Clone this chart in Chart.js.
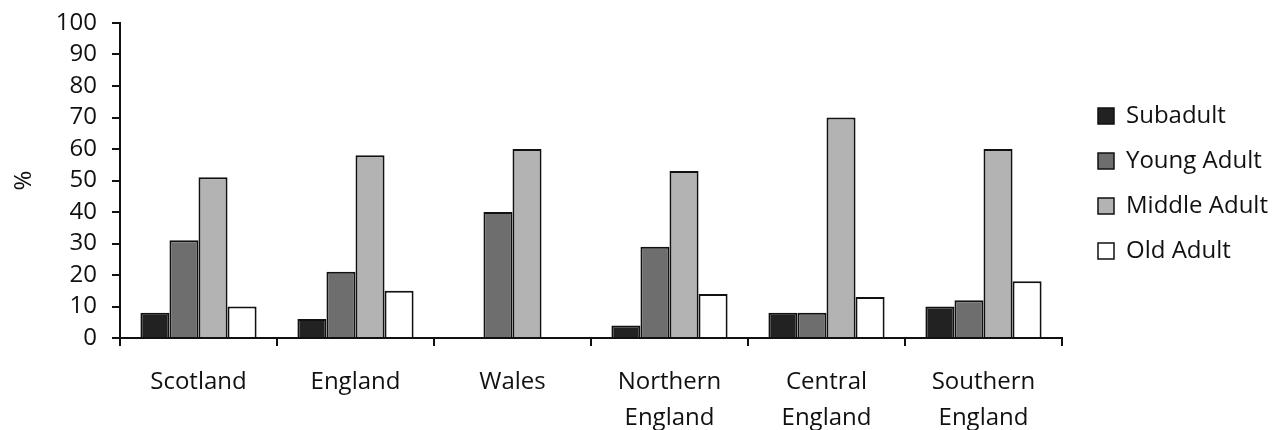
<!DOCTYPE html>
<html>
<head>
<meta charset="utf-8">
<script src="https://cdn.jsdelivr.net/npm/chart.js@4.4.1/dist/chart.umd.min.js"></script>
<style>
  html, body { margin: 0; padding: 0; background: #ffffff; }
  #wrap { width: 1280px; height: 430px; }
</style>
</head>
<body>
<div id="wrap"><canvas id="c" width="1280" height="430"></canvas></div>
<script>
// Age-at-death distribution by region (%)
const regions = ['Scotland', 'England', 'Wales', ['Northern', 'England'], ['Central', 'England'], ['Southern', 'England']];
const subadult    = [8, 6, 0, 4, 8, 10];
const youngAdult  = [31, 21, 40, 29, 8, 12];
const middleAdult = [51, 58, 60, 53, 70, 60];
const oldAdult    = [10, 15, 0, 14, 13, 18];
const yTicks = [0, 10, 20, 30, 40, 50, 60, 70, 80, 90, 100];

const FONT = "'Open Sans', 'DejaVu Sans', sans-serif";
const INK = '#111111';

// Legend sits a little further from the plot than Chart.js places it by default
const legendOffset = {
  id: 'legendOffset',
  afterInit(chart) {
    const lg = chart.legend;
    if (!lg) return;
    const fit = lg.fit;
    lg.fit = function () { fit.call(this); this.width = 218; };
    const draw = lg.draw;
    lg.draw = function () {
      this.left += 15; this.top += 6;
      draw.call(this);
      this.left -= 15; this.top -= 6;
    };
  }
};

function series(label, data, color) {
  return {
    label, data,
    backgroundColor: color,
    borderColor: INK,
    borderWidth: 2,
    categoryPercentage: 0.74,
    barPercentage: 1.0
  };
}

new Chart(document.getElementById('c'), {
  type: 'bar',
  data: {
    labels: regions,
    datasets: [
      series('Subadult', subadult, '#222222'),
      series('Young Adult', youngAdult, '#6e6e6e'),
      series('Middle Adult', middleAdult, '#b3b3b3'),
      series('Old Adult', oldAdult, '#ffffff')
    ]
  },
  options: {
    responsive: false,
    animation: false,
    events: [],
    layout: { padding: { top: 23, right: 0, bottom: 0, left: 0 } },
    plugins: {
      tooltip: { enabled: false },
      legend: {
        position: 'right',
        align: 'center',
        fullSize: false,
        labels: {
          font: { family: FONT, size: 24 },
          color: INK,
          boxWidth: 16,
          boxHeight: 16,
          padding: 21,
          generateLabels(chart) {
            return chart.data.datasets.map((ds, i) => ({
              text: ds.label,
              fillStyle: ds.backgroundColor,
              strokeStyle: INK,
              lineWidth: 1.5,
              fontColor: INK,
              hidden: false,
              datasetIndex: i
            }));
          }
        }
      }
    },
    scales: {
      x: {
        offset: true,
        border: { color: INK, width: 2 },
        grid: {
          offset: true,
          drawOnChartArea: false,
          drawTicks: true,
          tickLength: 8,
          color: INK,
          lineWidth: 2
        },
        ticks: {
          font: { family: FONT, size: 24, lineHeight: 1.5 },
          color: INK,
          padding: 18,
          maxRotation: 0,
          autoSkip: false
        },
        afterFit(scale) { scale.height = 92; }
      },
      y: {
        min: 0,
        max: 100,
        border: { color: INK, width: 2 },
        grid: {
          drawOnChartArea: false,
          drawTicks: true,
          tickLength: 8,
          color: INK,
          lineWidth: 2
        },
        afterBuildTicks(scale) { scale.ticks = yTicks.map(v => ({ value: v })); },
        ticks: {
          font: { family: FONT, size: 24 },
          color: INK,
          padding: 15,
          autoSkip: false
        },
        title: {
          display: true,
          text: '%',
          font: { family: FONT, size: 24 },
          color: INK,
          padding: { top: 10, bottom: 0 }
        },
        afterFit(scale) {
          scale.width = 120;
          scale.paddingTop = 0;
          scale.paddingBottom = 0;
        }
      }
    }
  },
  plugins: [legendOffset]
});
</script>
</body>
</html>
